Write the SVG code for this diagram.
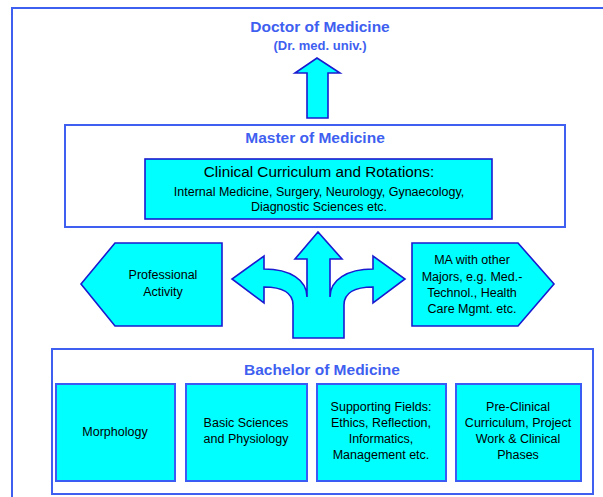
<svg xmlns="http://www.w3.org/2000/svg" width="603" height="497" viewBox="0 0 603 497">
<style>
.frame{fill:none;stroke:#3f5ff0;stroke-width:2}
.cyan{fill:#00ffff;stroke:#1a1ad0;stroke-width:1.6}
.cyanl{fill:#00ffff;stroke:#3a5cf5;stroke-width:2}
.title{font-family:"Liberation Sans",Arial,sans-serif;font-weight:bold;fill:#3f5ff0;text-anchor:middle;font-size:15.5px}
.sub{font-size:13px}
.t{font-family:"Liberation Sans",Arial,sans-serif;fill:#000;text-anchor:middle;font-size:12.5px}
.big{font-size:15.3px}
</style>
<rect width="603" height="497" fill="#fff"/>
<rect id="outer" class="frame" x="12" y="8" width="620" height="520"/>
<g id="doctor">
<text class="title" x="320" y="32">Doctor of Medicine</text>
<text class="title sub" x="320" y="50">(Dr. med. univ.)</text>
</g>
<g id="master">
<rect class="frame" x="65" y="125" width="500" height="102"/>
<text class="title" x="315" y="143">Master of Medicine</text>
</g>
<g id="clinical">
<rect class="cyan" x="145" y="159" width="347" height="60"/>
<text class="t big" x="319" y="177">Clinical Curriculum and Rotations:</text>
<text class="t" x="319" y="196">Internal Medicine, Surgery, Neurology, Gynaecology,</text>
<text class="t" x="319" y="211">Diagnostic Sciences etc.</text>
</g>
<g id="professional">
<polygon class="cyan" points="81,284 115,243 222,243 222,326 115,326"/>
<text class="t" x="163" y="279">Professional</text>
<text class="t" x="163" y="296">Activity</text>
</g>
<g id="ma">
<polygon class="cyan" points="412,243 518,243 554,284 518,326 412,326"/>
<text class="t" x="472" y="264">MA with other</text>
<text class="t" x="472" y="281">Majors, e.g. Med.-</text>
<text class="t" x="472" y="297">Technol., Health</text>
<text class="t" x="472" y="313">Care Mgmt. etc.</text>
</g>
<g id="connectors">
<polygon class="cyan" points="307,118 307,73 295,73 317,58 340,73 328,73 328,118"/>
<path class="cyan" d="M293,338 L293,305 C293,293 282,287 264,287 L264,303 L232,279 L264,256 L264,269 C290,269 307,280 307,297 L307,259 L295,259 L318,232 L342,259 L330,259 L330,297 C330,280 347,269 373,269 L373,256 L405,279 L373,303 L373,287 C355,287 344,293 344,305 L344,338 Z"/>
</g>
<g id="bachelor">
<rect class="frame" x="52" y="349" width="541" height="145"/>
<text class="title" x="322" y="375">Bachelor of Medicine</text>
</g>
<g id="morphology">
<rect class="cyanl" x="56" y="384" width="119" height="97"/>
<text class="t" x="115" y="436">Morphology</text>
</g>
<g id="basic">
<rect class="cyanl" x="186" y="384" width="121" height="97"/>
<text class="t" x="246" y="427">Basic Sciences</text>
<text class="t" x="246" y="443">and Physiology</text>
</g>
<g id="supporting">
<rect class="cyanl" x="317" y="384" width="129" height="97"/>
<text class="t" x="381" y="411">Supporting Fields:</text>
<text class="t" x="381" y="427">Ethics, Reflection,</text>
<text class="t" x="381" y="443">Informatics,</text>
<text class="t" x="381" y="459">Management etc.</text>
</g>
<g id="preclinical">
<rect class="cyanl" x="456" y="384" width="125" height="97"/>
<text class="t" x="518" y="411">Pre-Clinical</text>
<text class="t" x="518" y="427">Curriculum, Project</text>
<text class="t" x="518" y="443">Work &amp; Clinical</text>
<text class="t" x="518" y="459">Phases</text>
</g>
</svg>
